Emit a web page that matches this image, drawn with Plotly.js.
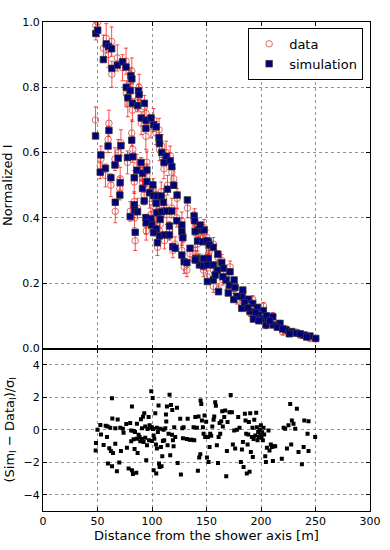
<!DOCTYPE html>
<html>
<head>
<meta charset="utf-8">
<script src="https://cdn.plot.ly/plotly-3.0.1.min.js"></script>
<style>
  html, body { margin: 0; padding: 0; background: #fff; }
  #chart { width: 390px; height: 550px; }
</style>
</head>
<body>
<div id="chart"></div>
<script>
// distance from the shower axis [m] for each station
const distance = [
  48.5, 50.2, 55.4, 58.0, 60.0, 63.0, 63.2, 68.2, 73.0, 76.2,
  80.6, 81.5, 76.4, 80.0, 87.6, 88.2, 77.8, 82.0, 86.7, 93.0,
  90.1, 94.5, 99.1, 101.5, 103.8, 106.5, 106.9, 109.0, 111.0, 113.0,
  116.7, 118.2, 120.0, 123.0,
  48.2, 60.5, 53.1, 52.5, 57.3, 59.7, 62.3, 66.0, 69.0, 71.5,
  70.5, 77.5, 82.4, 81.4, 83.7, 86.1, 89.9, 91.3, 94.4, 95.3,
  95.3, 100.8, 91.3, 97.7, 70.8, 101.4, 104.5, 108.4, 114.2, 132.5,
  66.3, 92.8, 103.8, 110.5, 83.7, 84.0, 86.7, 104.5, 109.0, 113.6,
  118.2, 80.0, 94.4, 99.0, 107.5, 122.8, 138.6, 139.1, 94.7, 99.9,
  116.0, 127.4, 103.8, 142.6, 147.8, 84.6, 106.9, 111.4, 116.0, 127.4,
  101.4, 105.0, 128.3, 141.8, 146.6, 119.1, 121.2, 134.9, 127.4, 140.5,
  129.5, 143.5, 147.2, 151.7, 151.7, 144.1, 139.6, 150.3, 152.7, 156.3,
  160.4, 132.0, 139.6, 147.2, 150.7, 156.3, 164.0, 165.5, 171.6, 150.8,
  156.3, 161.0, 168.0, 171.0, 175.3, 176.2, 183.3, 182.4, 188.4, 182.4,
  190.0, 192.4, 196.6, 202.2, 197.6, 203.7, 210.8, 204.6, 211.3, 217.4,
  223.0, 228.2, 232.7, 239.4, 244.9, 250.2,
  160.0, 165.0, 170.0, 178.0, 185.0, 195.0, 200.0, 205.0, 215.0, 220.0,
  226.0, 236.0, 242.0, 158.0, 175.0, 188.0, 193.0, 208.0, 198.0
];

// simulated normalized signal
const simI = [
  0.965, 0.975, 0.885, 0.933, 0.925, 0.918, 0.858, 0.868, 0.878, 0.862,
  0.835, 0.826, 0.800, 0.790, 0.789, 0.778, 0.768, 0.751, 0.744, 0.751,
  0.706, 0.699, 0.706, 0.685, 0.679, 0.646, 0.628, 0.600, 0.570, 0.589,
  0.575, 0.557, 0.500, 0.470,
  0.651, 0.668, 0.593, 0.540, 0.552, 0.620, 0.523, 0.562, 0.583, 0.621,
  0.470, 0.585, 0.587, 0.638, 0.523, 0.546, 0.570, 0.537, 0.674, 0.511,
  0.547, 0.501, 0.490, 0.477, 0.508, 0.468, 0.467, 0.467, 0.488, 0.455,
  0.448, 0.452, 0.445, 0.448, 0.440, 0.424, 0.419, 0.416, 0.419, 0.421,
  0.421, 0.404, 0.401, 0.397, 0.396, 0.391, 0.406, 0.391, 0.385, 0.378,
  0.375, 0.378, 0.366, 0.363, 0.363, 0.356, 0.345, 0.348, 0.348, 0.358,
  0.355, 0.324, 0.339, 0.329, 0.327, 0.312, 0.307, 0.307, 0.286, 0.276,
  0.266, 0.256, 0.253, 0.276, 0.327, 0.378, 0.358, 0.330, 0.317, 0.310,
  0.289, 0.263, 0.271, 0.276, 0.256, 0.256, 0.263, 0.246, 0.235, 0.205,
  0.210, 0.174, 0.210, 0.194, 0.210, 0.187, 0.179, 0.159, 0.151, 0.123,
  0.113, 0.138, 0.126, 0.116, 0.103, 0.092, 0.097, 0.072, 0.072, 0.077,
  0.057, 0.052, 0.047, 0.041, 0.038, 0.031,
  0.240, 0.220, 0.170, 0.160, 0.140, 0.110, 0.090, 0.100, 0.065, 0.060,
  0.045, 0.045, 0.035, 0.225, 0.150, 0.125, 0.090, 0.085, 0.085
];

// measured normalized signal
const dataI = [
  0.99, 1.00, 0.92, 0.95, 0.90, 0.94, 0.84, 0.89, 0.86, 0.88,
  0.82, 0.85, 0.78, 0.81, 0.77, 0.80, 0.75, 0.73, 0.76, 0.74,
  0.69, 0.72, 0.68, 0.70, 0.66, 0.67, 0.61, 0.62, 0.55, 0.60,
  0.59, 0.54, 0.52, 0.46,
  0.70, 0.69, 0.58, 0.56, 0.53, 0.64, 0.50, 0.58, 0.60, 0.63,
  0.49, 0.57, 0.61, 0.66, 0.51, 0.56, 0.55, 0.52, 0.65, 0.53,
  0.57, 0.48, 0.51, 0.46, 0.52, 0.49, 0.45, 0.48, 0.50, 0.43,
  0.42, 0.47, 0.43, 0.46, 0.45, 0.40, 0.43, 0.40, 0.44, 0.41,
  0.43, 0.42, 0.38, 0.41, 0.38, 0.40, 0.39, 0.40, 0.36, 0.39,
  0.36, 0.39, 0.38, 0.35, 0.37, 0.33, 0.36, 0.33, 0.36, 0.34,
  0.37, 0.31, 0.35, 0.32, 0.34, 0.30, 0.32, 0.29, 0.30, 0.28,
  0.25, 0.27, 0.24, 0.29, 0.31, 0.36, 0.37, 0.34, 0.30, 0.32,
  0.28, 0.24, 0.29, 0.26, 0.27, 0.24, 0.27, 0.23, 0.25, 0.22,
  0.19, 0.18, 0.22, 0.18, 0.20, 0.19, 0.17, 0.16, 0.14, 0.13,
  0.11, 0.15, 0.12, 0.13, 0.10, 0.09, 0.10, 0.07, 0.08, 0.07,
  0.06, 0.05, 0.05, 0.04, 0.03, 0.03,
  0.25, 0.21, 0.18, 0.15, 0.15, 0.12, 0.10, 0.09, 0.07, 0.05,
  0.05, 0.04, 0.04, 0.23, 0.16, 0.12, 0.10, 0.08, 0.09
];

// uncertainty on the measured signal
const dataErr = [
  0.045, 0.045, 0.040, 0.045, 0.040, 0.045, 0.040, 0.040, 0.040, 0.040,
  0.040, 0.040, 0.040, 0.040, 0.040, 0.040, 0.040, 0.035, 0.035, 0.035,
  0.035, 0.035, 0.035, 0.035, 0.035, 0.035, 0.035, 0.035, 0.030, 0.035,
  0.030, 0.030, 0.030, 0.030,
  0.040, 0.040, 0.040, 0.040, 0.035, 0.040, 0.035, 0.035, 0.040, 0.040,
  0.035, 0.035, 0.040, 0.040, 0.035, 0.035, 0.035, 0.035, 0.040, 0.035,
  0.035, 0.030, 0.030, 0.030, 0.035, 0.030, 0.030, 0.030, 0.030, 0.030,
  0.035, 0.030, 0.030, 0.030, 0.030, 0.030, 0.030, 0.030, 0.030, 0.030,
  0.030, 0.030, 0.030, 0.030, 0.028, 0.028, 0.028, 0.028, 0.028, 0.028,
  0.028, 0.028, 0.028, 0.025, 0.025, 0.030, 0.025, 0.025, 0.025, 0.025,
  0.025, 0.025, 0.025, 0.022, 0.022, 0.022, 0.022, 0.022, 0.020, 0.020,
  0.020, 0.020, 0.020, 0.020, 0.022, 0.025, 0.025, 0.022, 0.020, 0.020,
  0.020, 0.020, 0.020, 0.020, 0.020, 0.018, 0.018, 0.018, 0.018, 0.018,
  0.018, 0.015, 0.015, 0.015, 0.015, 0.015, 0.015, 0.013, 0.013, 0.012,
  0.012, 0.012, 0.012, 0.011, 0.011, 0.010, 0.010, 0.009, 0.009, 0.009,
  0.008, 0.008, 0.007, 0.007, 0.006, 0.006,
  0.018, 0.016, 0.015, 0.014, 0.013, 0.012, 0.010, 0.010, 0.009, 0.008,
  0.008, 0.007, 0.006, 0.016, 0.014, 0.012, 0.011, 0.010, 0.010
];

// residuals (Sim - Data)/sigma
const resDist = [
  48.3, 48.6, 50.0, 52.6, 53.2, 55.6, 57.5, 58.7, 59.3, 59.6,
  60.8, 61.7, 62.3, 63.3, 63.3, 63.6, 64.2, 66.3, 66.3, 67.8,
  68.5, 70.0, 70.9, 71.5, 73.3, 73.9, 76.4, 77.0, 78.5, 80.0,
  80.9, 80.9, 81.6, 81.6, 82.5, 83.1, 83.1, 84.0, 84.4, 85.6,
  86.2, 86.2, 86.8, 87.7, 88.6, 89.2, 89.9, 90.8, 90.8, 91.7,
  92.3, 92.9, 93.8, 93.8, 94.7, 95.4, 96.0, 96.9, 97.2, 97.8,
  98.4, 99.3, 99.9, 99.9, 100.6, 100.9, 101.5, 101.5, 102.1, 103.0,
  103.6, 103.9, 104.5, 104.5, 105.4, 106.0, 106.4, 107.0, 107.6, 108.2,
  108.8, 109.4, 110.0, 110.6, 111.2, 112.2, 112.8, 113.1, 113.7, 114.3,
  115.2, 116.1, 116.7, 117.4, 118.3, 118.6, 119.2, 119.8, 120.4, 121.3,
  122.9, 123.5, 125.9, 126.5, 127.8, 128.4, 129.0, 132.7, 132.0, 134.5,
  136.6, 138.1, 138.8, 139.7, 141.2, 142.1, 142.7, 143.3, 144.3, 144.6,
  145.2, 145.8, 146.7, 147.3, 148.2, 148.8, 149.7, 150.4, 151.3, 151.9,
  152.8, 153.4, 154.3, 155.3, 156.5, 157.1, 158.0, 158.6, 159.5, 160.5,
  161.1, 162.0, 162.6, 163.5, 164.4, 165.0, 166.3, 167.2, 168.1, 168.7,
  169.3, 171.1, 172.2, 173.3, 174.2, 175.4, 176.3, 177.9, 179.1, 180.3,
  181.5, 182.5, 183.4, 184.0, 185.2, 185.8, 186.4, 187.0, 187.7, 188.3,
  188.9, 189.5, 190.1, 190.7, 191.6, 192.2, 192.5, 193.2, 193.8, 194.7,
  195.6, 196.2, 196.8, 197.4, 198.0, 198.7, 199.3, 199.9, 200.5, 201.1,
  201.7, 202.3, 202.9, 203.9, 204.5, 205.4, 206.9, 207.8, 209.0, 210.0,
  210.9, 211.5, 213.0, 219.1, 220.8, 222.2, 223.8, 225.2, 226.8, 227.7,
  228.3, 229.8, 231.4, 232.9, 234.4, 237.5, 239.1, 239.7, 242.7, 243.6,
  243.6, 249.7
];

const resVal = [
  -1.27, -0.82, 0.00, 0.29, -0.29, -0.94, 0.24, -0.45, 0.20, -2.08,
  -1.14, 0.12, -1.31, 1.94, -2.24, 0.69, -1.43, 0.10, -0.86, -2.55,
  0.63, -2.02, 0.12, -1.31, 0.06, -0.18, 0.35, -1.10, -2.39, 0.41,
  -0.04, -0.71, 1.43, -2.49, -2.73, -0.59, -0.08, -1.18, -0.14, -2.65,
  0.37, -0.55, -1.43, -0.31, -0.45, -0.71, 0.65, -0.57, 0.10, 0.80,
  -0.76, 1.02, 0.20, -0.49, -1.88, -0.96, 0.04, 0.78, -0.65, 0.27,
  0.12, 2.37, 0.16, -0.69, 1.96, 0.04, -0.35, -2.49, -0.55, 1.02,
  -0.90, -2.69, 0.12, -1.16, -0.14, 1.49, -2.08, -2.29, 0.06, -1.06,
  -2.24, -1.63, -0.69, 0.00, -0.65, 0.10, 0.94, 0.51, 1.43, -0.96,
  -0.24, 2.16, -1.57, 1.53, -0.31, 1.22, -0.65, -1.02, 0.16, -0.45,
  1.35, -2.04, 0.67, -2.76, 0.10, -0.53, 0.16, 0.67, -0.57, -0.61,
  -0.61, 0.16, -0.65, 0.78, 0.12, -2.53, 0.82, -1.71, -1.51, 1.80,
  1.59, 0.57, 0.16, -0.24, 0.88, -0.45, 0.49, -1.71, -0.45, -1.98,
  -1.06, -0.24, -0.37, 0.20, 0.61, 0.82, 1.69, 1.47, -0.96, -2.04,
  -0.45, 0.41, -0.24, 0.53, 1.14, 0.20, 0.78, 1.18, -2.86, -1.31,
  0.47, 1.08, 2.14, 1.08, -0.90, -0.04, -1.16, 0.00, 0.78, 0.12,
  -1.98, -1.22, -0.76, -2.29, 0.98, 0.57, -0.24, -2.69, -0.90, -0.29,
  0.47, -2.59, 1.02, -1.37, -0.45, 0.12, -1.67, -0.57, 0.61, -0.35,
  1.04, 0.16, -0.65, -0.14, -0.45, 0.00, -0.35, 0.27, -0.49, -0.16,
  -0.65, 0.12, -0.29, -1.63, -1.98, -1.10, -0.04, -1.27, -0.90, -1.06,
  -1.92, -1.02, -1.02, -1.78, 0.12, 0.06, -1.16, 0.27, 1.59, -0.90,
  0.57, 0.37, 0.06, 1.29, -1.37, -2.12, -1.06, 0.57, -0.24, 0.53,
  -1.31, -0.45
];

const FONT = 'DejaVu Sans, Liberation Sans, sans-serif';

const traces = [
  {
    x: distance, y: dataI,
    xaxis: 'x2', yaxis: 'y2',
    type: 'scatter', mode: 'markers', name: 'data',
    marker: { symbol: 'circle-open', size: 6.5, color: 'rgba(205,60,60,0.75)', line: { width: 1 } },
    error_y: { type: 'data', array: dataErr, visible: true, color: 'rgba(255,0,0,0.7)', thickness: 1, width: 2 }
  },
  {
    x: distance, y: simI,
    xaxis: 'x2', yaxis: 'y2',
    type: 'scatter', mode: 'markers', name: 'simulation',
    marker: { symbol: 'square', size: 6.5, color: '#000080', line: { width: 0.8, color: '#333' } }
  },
  {
    x: resDist, y: resVal,
    xaxis: 'x', yaxis: 'y',
    type: 'scatter', mode: 'markers', name: 'residual', showlegend: false,
    marker: { symbol: 'square', size: 4, color: '#000' }
  }
];

const axisCommon = {
  showline: true, linecolor: '#000', linewidth: 1, mirror: 'ticks',
  ticks: 'inside', ticklen: 4, tickcolor: '#000',
  showgrid: true, gridcolor: '#777', griddash: 'dot', gridwidth: 0.8,
  zeroline: false,
  tickfont: { family: FONT, size: 11, color: '#000' }
};

const split = 0.3323;

const layout = {
  width: 390, height: 550,
  margin: { l: 43, r: 20, t: 22, b: 39 },
  paper_bgcolor: '#fff', plot_bgcolor: '#fff',
  font: { family: FONT, size: 11, color: '#000' },
  hovermode: false,
  xaxis: Object.assign({}, axisCommon, {
    range: [0, 300], dtick: 50, anchor: 'y',
    title: { text: 'Distance from the shower axis [m]', font: { family: FONT, size: 13 }, standoff: 1 }
  }),
  yaxis: Object.assign({}, axisCommon, {
    domain: [0, split], range: [-5, 5], tickvals: [-4, -2, 0, 2, 4], anchor: 'x',
    title: { text: '(Sim<sub>I</sub> − Data<sub>I</sub>)/σ<sub>I</sub>', font: { family: FONT, size: 13 }, standoff: 6 }
  }),
  xaxis2: Object.assign({}, axisCommon, {
    range: [0, 300], dtick: 50, anchor: 'y2', matches: 'x', showticklabels: false
  }),
  yaxis2: Object.assign({}, axisCommon, {
    domain: [split, 1], range: [0, 1], dtick: 0.2, tickformat: '.1f', anchor: 'x2',
    title: { text: 'Normalized I', font: { family: FONT, size: 13 }, standoff: 6 }
  }),
  legend: {
    x: 0.979, xanchor: 'right', y: 0.988, yanchor: 'top',
    bgcolor: '#fff', bordercolor: '#000', borderwidth: 1,
    font: { family: FONT, size: 13, color: '#000' },
    tracegroupgap: 0, itemwidth: 30
  }
};

Plotly.newPlot('chart', traces, layout, { staticPlot: true, displayModeBar: false });
</script>
</body>
</html>
